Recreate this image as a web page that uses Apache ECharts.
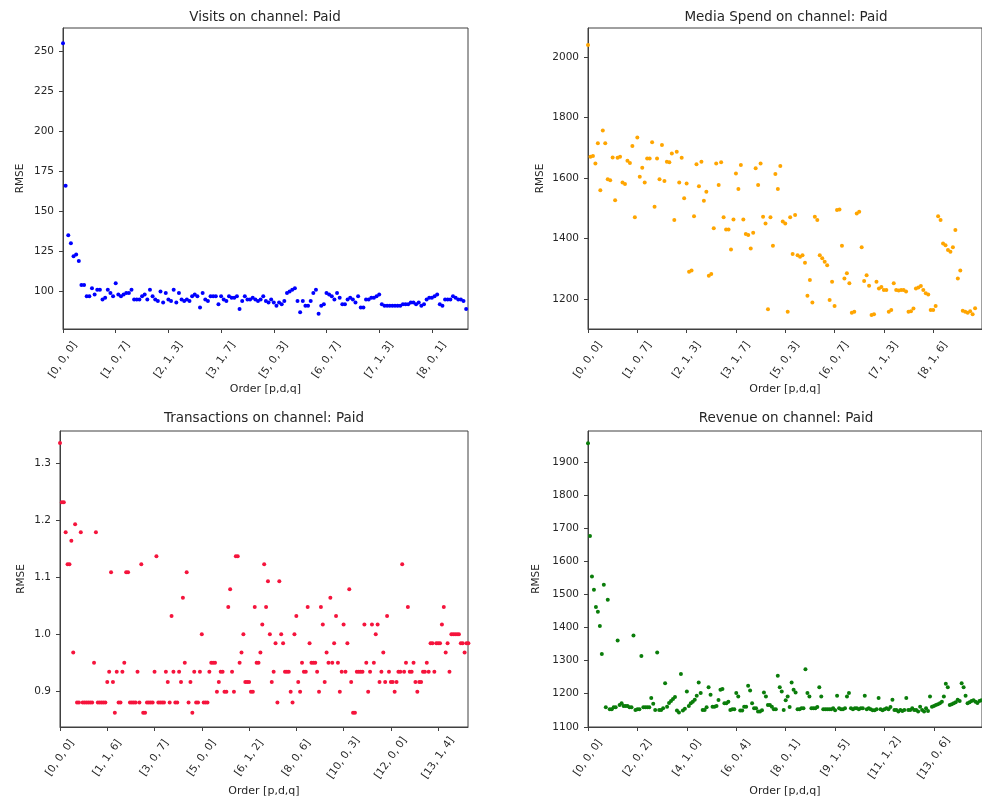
<!DOCTYPE html>
<html>
<head>
<meta charset="utf-8">
<title>RMSE by ARIMA order on channel Paid</title>
<script src="https://cdn.jsdelivr.net/npm/echarts@6/dist/echarts.min.js"></script>
<style>
  html, body { margin: 0; padding: 0; background: #fff; }
  #main { width: 982px; height: 803px; }
</style>
</head>
<body>
<div id="main"></div>
<script>
// tick labels (one every 20 or 25 orders)
var visitsTickLabels = ['[0, 0, 0]', '[1, 0, 7]', '[2, 1, 3]', '[3, 1, 7]', '[5, 0, 3]', '[6, 0, 7]', '[7, 1, 3]', '[8, 0, 1]'];
var mediaTickLabels = ['[0, 0, 0]', '[1, 0, 7]', '[2, 1, 3]', '[3, 1, 7]', '[5, 0, 3]', '[6, 0, 7]', '[7, 1, 3]', '[8, 1, 6]'];
var transTickLabels = ['[0, 0, 0]', '[1, 1, 6]', '[3, 0, 7]', '[5, 0, 0]', '[6, 1, 2]', '[8, 0, 6]', '[10, 0, 3]', '[12, 0, 0]', '[13, 1, 4]'];
var revenueTickLabels = ['[0, 0, 0]', '[2, 0, 2]', '[4, 1, 0]', '[6, 0, 4]', '[8, 0, 1]', '[9, 1, 5]', '[11, 1, 2]', '[13, 0, 6]'];

var visitsYTicks = [100, 125, 150, 175, 200, 225, 250];
var mediaYTicks = [1200, 1400, 1600, 1800, 2000];
var transYTicks = [0.9, 1.0, 1.1, 1.2, 1.3];
var revenueYTicks = [1100, 1200, 1300, 1400, 1500, 1600, 1700, 1800, 1900];

// RMSE per fitted order, in plotting order
var visitsRmse = [
  255, 166, 135, 130, 122, 123, 119, 104, 104, 97,
  97, 102, 98, 101, 101, 95, 96, 101, 99, 97,
  105, 98, 97, 98, 99, 99, 101, 95, 95, 95,
  97, 98, 95, 101, 97, 95, 94, 100, 93, 99,
  95, 94, 101, 93, 99, 95, 94, 95, 94, 97,
  98, 97, 90, 99, 95, 94, 97, 97, 97, 92,
  97, 95, 94, 97, 96, 96, 97, 89, 94, 97,
  95, 95, 96, 95, 94, 95, 97, 94, 93, 95,
  93, 91, 93, 92, 94, 99, 100, 101, 102, 94,
  87, 94, 91, 91, 94, 99, 101, 86, 91, 92,
  99, 98, 97, 95, 99, 96, 92, 92, 95, 96,
  95, 93, 97, 90, 90, 95, 95, 96, 96, 97,
  98, 92, 91, 91, 91, 91, 91, 91, 91, 92,
  92, 92, 93, 93, 92, 93, 91, 92, 95, 96,
  96, 97, 98, 92, 91, 95, 95, 95, 97, 96,
  95, 95, 94, 89
];

var mediaRmse = [
  2040, 1670, 1673, 1648, 1715, 1560, 1757, 1715, 1596, 1593,
  1668, 1527, 1667, 1670, 1585, 1580, 1657, 1650, 1706, 1470,
  1734, 1604, 1634, 1585, 1665, 1665, 1718, 1505, 1665, 1596,
  1709, 1590, 1654, 1652, 1681, 1461, 1687, 1585, 1667, 1533,
  1582, 1290, 1294, 1474, 1646, 1573, 1654, 1525, 1555, 1277,
  1283, 1434, 1648, 1577, 1652, 1470, 1430, 1430, 1364, 1463,
  1615, 1564, 1643, 1463, 1415, 1412, 1367, 1419, 1632, 1577,
  1648, 1472, 1450, 1166, 1470, 1376, 1613, 1564, 1640, 1456,
  1450, 1158, 1470, 1349, 1478, 1345, 1340, 1345, 1320, 1211,
  1263, 1189, 1472, 1461, 1345, 1335, 1323, 1312, 1197, 1257,
  1177, 1494, 1496, 1376, 1268, 1285, 1252, 1155, 1158, 1483,
  1489, 1371, 1260, 1279, 1244, 1147, 1150, 1257, 1235, 1240,
  1230, 1230, 1158, 1164, 1252, 1230, 1228, 1230, 1230, 1225,
  1158, 1160, 1169, 1235, 1238, 1243, 1230, 1219, 1215, 1164,
  1164, 1177, 1474, 1461, 1384, 1378, 1362, 1356, 1371, 1428,
  1268, 1294, 1161, 1158, 1155, 1160, 1150, 1170
];

var transRmse = [
  1.336, 1.232, 1.232, 1.179, 1.123, 1.123, 1.164, 0.968, 1.193, 0.880,
  0.880, 1.179, 0.880, 0.880, 0.880, 0.880, 0.880, 0.880, 0.950, 1.179,
  0.880, 0.880, 0.880, 0.880, 0.880, 0.916, 0.934, 1.109, 0.916, 0.862,
  0.934, 0.880, 0.880, 0.934, 0.950, 1.109, 1.109, 0.880, 0.880, 0.880,
  0.880, 0.934, 0.880, 1.123, 0.862, 0.862, 0.880, 0.880, 0.880, 0.880,
  0.934, 1.137, 0.880, 0.880, 0.880, 0.880, 0.934, 0.916, 0.880, 1.032,
  0.934, 0.880, 0.880, 0.934, 0.916, 1.064, 0.950, 1.109, 0.880, 0.916,
  0.862, 0.934, 0.880, 0.880, 0.934, 1.000, 0.880, 0.880, 0.880, 0.934,
  0.950, 0.950, 0.950, 0.899, 0.916, 0.934, 0.934, 0.899, 0.899, 1.048,
  1.079, 0.934, 0.899, 1.137, 1.137, 0.950, 0.968, 1.000, 0.916, 0.916,
  0.916, 0.899, 0.899, 1.048, 0.950, 0.950, 0.968, 1.017, 1.123, 1.048,
  1.093, 1.000, 0.916, 0.934, 0.984, 0.880, 1.093, 1.000, 0.984, 0.934,
  0.934, 0.934, 0.899, 0.880, 1.000, 1.032, 0.916, 0.899, 0.950, 0.934,
  0.934, 1.048, 0.984, 0.950, 0.950, 0.950, 0.934, 0.899, 1.048, 1.017,
  0.916, 0.968, 0.950, 1.064, 0.950, 0.984, 1.032, 0.950, 0.899, 0.934,
  1.017, 0.934, 0.984, 1.079, 0.916, 0.862, 0.862, 0.934, 0.934, 0.934,
  0.934, 1.017, 0.950, 0.899, 0.934, 1.017, 0.950, 1.000, 1.017, 0.916,
  0.934, 0.968, 0.916, 1.032, 0.934, 0.916, 0.916, 0.899, 0.916, 0.934,
  0.934, 1.123, 0.934, 0.950, 1.048, 0.934, 0.934, 0.950, 0.916, 0.899,
  0.916, 0.916, 0.934, 0.934, 0.950, 0.934, 0.984, 0.984, 0.934, 0.984,
  0.984, 0.984, 1.017, 1.048, 0.968, 0.984, 0.934, 1.000, 1.000, 1.000,
  1.000, 1.000, 0.984, 0.984, 0.968, 0.984, 0.984
];

var revenueRmse = [
  1957, 1677, 1554, 1514, 1462, 1448, 1405, 1320, 1529, 1159,
  1484, 1153, 1153, 1159, 1159, 1361, 1166, 1171, 1163, 1163,
  1163, 1159, 1159, 1376, 1151, 1153, 1153, 1314, 1159, 1159,
  1159, 1159, 1187, 1170, 1151, 1325, 1151, 1151, 1156, 1232,
  1161, 1172, 1178, 1184, 1190, 1149, 1143, 1260, 1149, 1155,
  1207, 1163, 1171, 1176, 1182, 1194, 1234, 1202, 1151, 1151,
  1159, 1220, 1197, 1161, 1161, 1163, 1181, 1212, 1214, 1171,
  1171, 1176, 1151, 1153, 1153, 1202, 1192, 1149, 1149, 1161,
  1161, 1224, 1210, 1171, 1156, 1156, 1146, 1146, 1150, 1204,
  1192, 1166, 1166, 1161, 1153, 1153, 1254, 1220, 1207, 1151,
  1180, 1192, 1160, 1234, 1212, 1204, 1153, 1153, 1156, 1156,
  1274, 1202, 1192, 1156, 1156, 1156, 1160, 1220, 1192, 1153,
  1153, 1153, 1153, 1153, 1156, 1150, 1194, 1156, 1153, 1153,
  1156, 1192, 1202, 1156, 1153, 1156, 1156, 1153, 1156, 1156,
  1194, 1153, 1156, 1153, 1150, 1150, 1153, 1187, 1153, 1150,
  1153, 1156, 1153, 1160, 1182, 1151, 1151, 1146, 1151, 1148,
  1151, 1187, 1151, 1151, 1156, 1151, 1151, 1146, 1161, 1151,
  1146, 1156, 1148, 1192, 1161, 1163, 1166, 1168, 1171, 1176,
  1192, 1230, 1220, 1166, 1168, 1171, 1174, 1182, 1178, 1232,
  1220, 1194, 1171, 1174, 1178, 1180, 1176, 1172, 1178, 1180
];

var myChart = echarts.init(document.getElementById('main'));

var style = {
    font: 'DejaVu Sans',
    textColor: '#262626',
    axisColor: '#404040'
};

var panels = [
    { title: 'Visits on channel: Paid', values: visitsRmse, color: '#0000ff', step: 20,
      ticks: visitsTickLabels, yTicks: visitsYTicks, yMin: 76.5, yMax: 264.5, xMax: 153.7,
      grid: { left: 63, top: 28, width: 405, height: 301 }, titleX: 265, titleY: 10.5, yGap: 37, xGap: 55 },
    { title: 'Media Spend on channel: Paid', values: mediaRmse, color: '#ffa500', step: 20,
      ticks: mediaTickLabels, yTicks: mediaYTicks, yMin: 1101, yMax: 2096, xMax: 159.8,
      grid: { left: 588, top: 28, width: 405, height: 301 }, titleX: 786, titleY: 10.5, yGap: 42, xGap: 55 },
    { title: 'Transactions on channel: Paid', values: transRmse, color: '#f5143c', step: 25,
      ticks: transTickLabels, yTicks: transYTicks, yMin: 0.837, yMax: 1.357, xMax: 215.8,
      grid: { left: 60, top: 431, width: 408, height: 296 }, titleX: 264, titleY: 411.5, yGap: 33, xGap: 59, decimals: 1 },
    { title: 'Revenue on channel: Paid', values: revenueRmse, color: '#0a7d0a', step: 25,
      ticks: revenueTickLabels, yTicks: revenueYTicks, yMin: 1099.5, yMax: 1994, xMax: 199.3,
      grid: { left: 588, top: 431, width: 405, height: 296 }, titleX: 786, titleY: 411.5, yGap: 46, xGap: 59 }
];

var option = {
    animation: false,
    backgroundColor: '#fff',
    title: [],
    grid: [],
    xAxis: [],
    yAxis: [],
    series: []
};

panels.forEach(function (p, i) {
    var tickPos = p.ticks.map(function (t, k) { return k * p.step; });

    option.title.push({
        text: p.title,
        left: p.titleX,
        top: p.titleY,
        textAlign: 'center',
        padding: 0,
        textStyle: { fontFamily: style.font, fontSize: 13.5, fontWeight: 'normal', color: style.textColor }
    });

    option.grid.push({
        left: p.grid.left,
        top: p.grid.top,
        width: p.grid.width,
        height: p.grid.height,
        show: true,
        borderColor: style.axisColor,
        borderWidth: 1,
        containLabel: false
    });

    option.xAxis.push({
        type: 'value',
        gridIndex: i,
        min: 0,
        max: p.xMax,
        name: 'Order [p,d,q]',
        nameLocation: 'middle',
        nameGap: p.xGap,
        nameMoveOverlap: false,
        nameTextStyle: { fontFamily: style.font, fontSize: 11, color: style.textColor },
        axisLine: { show: true, onZero: false, lineStyle: { color: style.axisColor, width: 1 } },
        axisTick: { show: true, length: 4, customValues: tickPos, lineStyle: { color: style.axisColor } },
        axisLabel: {
            customValues: tickPos,
            rotate: 55,
            align: 'center',
            verticalAlign: 'middle',
            margin: 31,
            fontFamily: style.font,
            fontSize: 10.5,
            color: style.textColor,
            formatter: function (v) {
                return p.ticks[Math.round(v / p.step)];
            }
        },
        splitLine: { show: false }
    });

    option.yAxis.push({
        type: 'value',
        gridIndex: i,
        min: p.yMin,
        max: p.yMax,
        name: 'RMSE',
        nameLocation: 'middle',
        nameGap: p.yGap,
        nameMoveOverlap: false,
        nameTextStyle: { fontFamily: style.font, fontSize: 10.5, color: style.textColor },
        axisLine: { show: true, onZero: false, lineStyle: { color: style.axisColor, width: 1 } },
        axisTick: { show: true, length: 4, customValues: p.yTicks, lineStyle: { color: style.axisColor } },
        axisLabel: {
            customValues: p.yTicks,
            margin: 9,
            fontFamily: style.font,
            fontSize: 10.5,
            color: style.textColor,
            formatter: function (v) {
                return p.decimals ? v.toFixed(p.decimals) : String(v);
            }
        },
        splitLine: { show: false }
    });

    option.series.push({
        type: 'scatter',
        xAxisIndex: i,
        yAxisIndex: i,
        symbol: 'circle',
        symbolSize: 4,
        clip: false,
        itemStyle: { color: p.color, opacity: 1 },
        data: p.values.map(function (v, k) { return [k, v]; })
    });
});

myChart.setOption(option);
</script>
</body>
</html>
